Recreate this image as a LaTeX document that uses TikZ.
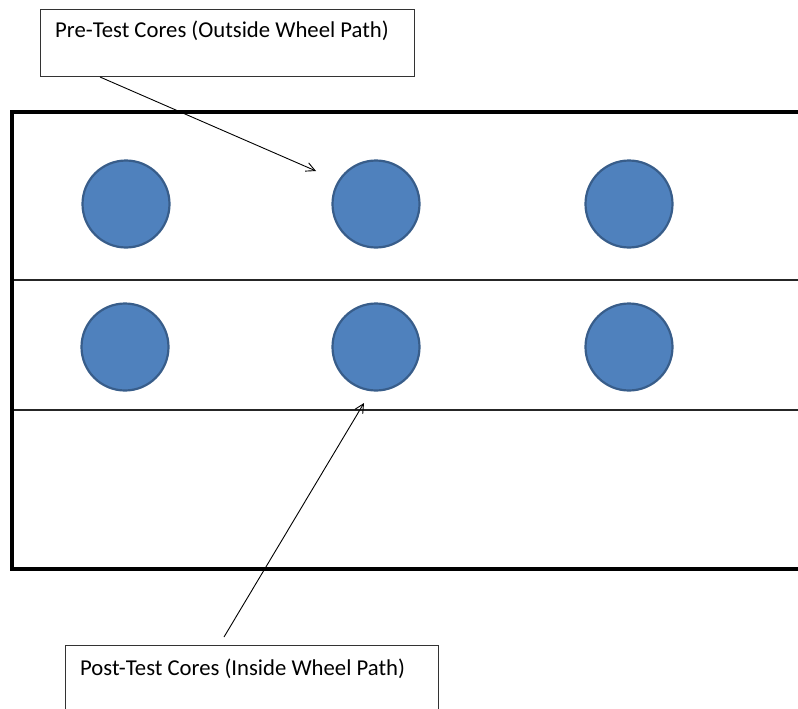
\documentclass[tikz,border=0pt]{standalone}
\usepackage{fontspec}
\setmainfont{Carlito}
\usetikzlibrary{arrows.meta}
\definecolor{corefill}{HTML}{4F81BD}
\definecolor{coreline}{HTML}{385D8A}
\begin{document}
\begin{tikzpicture}[x=1pt,y=-1pt,
  core/.style={circle,fill=corefill,draw=coreline,line width=2.2pt,minimum size=87pt,inner sep=0pt},
  callout/.style={draw=black!80,line width=0.9pt,fill=white,rectangle,anchor=north west,inner sep=0pt},
  calltext/.style={anchor=base west,font=\fontsize{22.7}{24}\selectfont,text=black,inner sep=0pt},
  pointer/.style={line width=0.9pt,-{Straight Barb[length=9pt,width=9pt]}},
  lane/.style={line width=1.1pt,draw=black!85},
  edge/.style={line width=3.2pt}]
\useasboundingbox (0,0) rectangle (798,709);
\clip (0,0) rectangle (798,709);
% road section
\coordinate (tl) at (12,112);
\coordinate (tr) at (800,112);
\coordinate (bl) at (12,569);
\coordinate (br) at (800,569);
\coordinate (l1) at (12,280);
\coordinate (r1) at (800,280);
\coordinate (l2) at (12,410);
\coordinate (r2) at (800,410);
\draw[lane] (l1) -- (r1);
\draw[lane] (l2) -- (r2);
\draw[edge] (tr) -- (tl) -- (bl) -- (br);
% cores
\node[core] (c11) at (126,204) {};
\node[core] (c12) at (376,204) {};
\node[core] (c13) at (629,204) {};
\node[core] (c21) at (125,347) {};
\node[core] (c22) at (376,347) {};
\node[core] (c23) at (629,347) {};
% callouts
\node[callout,minimum width=374pt,minimum height=67pt] (pre) at (40,9) {};
\node[calltext] (pretxt) at (55,38) {Pre-Test Cores (Outside Wheel Path)};
\node[callout,minimum width=373pt,minimum height=100pt] (post) at (65,645) {};
\node[calltext] (posttxt) at (80,675) {Post-Test Cores (Inside Wheel Path)};
% pointers
\coordinate (p1s) at (100,77);
\coordinate (p1e) at (316,171);
\coordinate (p2s) at (224,637);
\coordinate (p2e) at (364,403);
\draw[pointer] (p1s) -- (p1e);
\draw[pointer] (p2s) -- (p2e);
\end{tikzpicture}
\end{document}
